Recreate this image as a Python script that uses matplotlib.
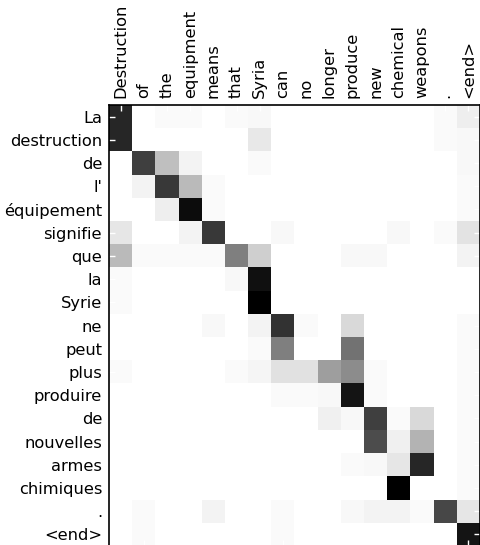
import numpy as np
import matplotlib
matplotlib.use("Agg")
import matplotlib.pyplot as plt

source_words = ["Destruction", "of", "the", "equipment", "means", "that", "Syria",
                "can", "no", "longer", "produce", "new", "chemical", "weapons",
                ".", "<end>"]
target_words = ["La", "destruction", "de", "l'", "équipement", "signifie", "que",
                "la", "Syrie", "ne", "peut", "plus", "produire", "de", "nouvelles",
                "armes", "chimiques", ".", "<end>"]

# attention weights: one row per target word, one column per source word
attention = np.array([
    # Dest  of    the   equip means that  Syria can   no    long  prod  new   chem  weap  .     <end>
    [0.85, 0.00, 0.02, 0.02, 0.00, 0.02, 0.03, 0.00, 0.00, 0.00, 0.00, 0.00, 0.00, 0.00, 0.02, 0.07],
    [0.85, 0.00, 0.00, 0.00, 0.00, 0.00, 0.09, 0.00, 0.00, 0.00, 0.00, 0.00, 0.00, 0.00, 0.02, 0.03],
    [0.00, 0.75, 0.25, 0.05, 0.00, 0.00, 0.02, 0.00, 0.00, 0.00, 0.00, 0.00, 0.00, 0.00, 0.00, 0.03],
    [0.00, 0.05, 0.78, 0.27, 0.02, 0.00, 0.00, 0.00, 0.00, 0.00, 0.00, 0.00, 0.00, 0.00, 0.00, 0.02],
    [0.00, 0.00, 0.07, 0.95, 0.02, 0.00, 0.00, 0.00, 0.00, 0.00, 0.00, 0.00, 0.00, 0.00, 0.00, 0.02],
    [0.10, 0.00, 0.00, 0.05, 0.78, 0.00, 0.00, 0.03, 0.00, 0.00, 0.00, 0.00, 0.03, 0.00, 0.02, 0.11],
    [0.27, 0.02, 0.02, 0.02, 0.02, 0.50, 0.19, 0.00, 0.00, 0.00, 0.03, 0.03, 0.00, 0.00, 0.00, 0.05],
    [0.02, 0.00, 0.00, 0.00, 0.00, 0.03, 0.93, 0.00, 0.00, 0.00, 0.00, 0.00, 0.00, 0.00, 0.00, 0.00],
    [0.02, 0.00, 0.00, 0.00, 0.00, 0.00, 1.00, 0.00, 0.00, 0.00, 0.00, 0.00, 0.00, 0.00, 0.00, 0.00],
    [0.00, 0.00, 0.00, 0.00, 0.03, 0.00, 0.05, 0.80, 0.02, 0.00, 0.15, 0.00, 0.00, 0.00, 0.00, 0.02],
    [0.00, 0.00, 0.00, 0.00, 0.00, 0.00, 0.02, 0.50, 0.00, 0.00, 0.55, 0.00, 0.00, 0.00, 0.00, 0.02],
    [0.02, 0.00, 0.00, 0.00, 0.00, 0.02, 0.04, 0.12, 0.12, 0.38, 0.45, 0.02, 0.00, 0.00, 0.00, 0.02],
    [0.00, 0.00, 0.00, 0.00, 0.00, 0.00, 0.00, 0.02, 0.02, 0.03, 0.92, 0.02, 0.00, 0.00, 0.00, 0.02],
    [0.00, 0.00, 0.00, 0.00, 0.00, 0.00, 0.00, 0.00, 0.00, 0.06, 0.03, 0.75, 0.02, 0.15, 0.00, 0.02],
    [0.00, 0.00, 0.00, 0.00, 0.00, 0.00, 0.00, 0.00, 0.00, 0.00, 0.00, 0.70, 0.06, 0.30, 0.00, 0.02],
    [0.00, 0.00, 0.00, 0.00, 0.00, 0.00, 0.00, 0.00, 0.00, 0.00, 0.02, 0.03, 0.10, 0.85, 0.00, 0.02],
    [0.00, 0.00, 0.00, 0.00, 0.00, 0.00, 0.00, 0.00, 0.00, 0.00, 0.00, 0.00, 1.00, 0.00, 0.00, 0.02],
    [0.00, 0.02, 0.00, 0.00, 0.05, 0.00, 0.00, 0.02, 0.00, 0.00, 0.03, 0.05, 0.05, 0.02, 0.72, 0.10],
    [0.00, 0.02, 0.00, 0.00, 0.00, 0.00, 0.00, 0.02, 0.00, 0.00, 0.00, 0.00, 0.00, 0.00, 0.00, 0.92],
])

fig = plt.figure(figsize=(4.81, 5.45), dpi=100)
ax = fig.add_axes([109 / 481, -1 / 545, 371 / 481, 441 / 545])

ax.imshow(attention, cmap="gray_r", vmin=0, vmax=1, aspect="auto",
          interpolation="nearest")

ax.set_xticks(np.arange(len(source_words)))
ax.set_xticklabels(source_words, rotation=90, fontsize=11.7)
ax.set_yticks(np.arange(len(target_words)))
ax.set_yticklabels(target_words, fontsize=11.7)

ax.xaxis.tick_top()
ax.tick_params(axis="both", which="both", direction="in", color="white",
               length=4, width=1, top=True, bottom=True, left=True, right=True,
               labeltop=True, labelbottom=False, labelleft=True, labelright=False,
               pad=5)

for spine in ax.spines.values():
    spine.set_color("black")
    spine.set_linewidth(1.2)

fig.savefig("out.png", dpi=100)
